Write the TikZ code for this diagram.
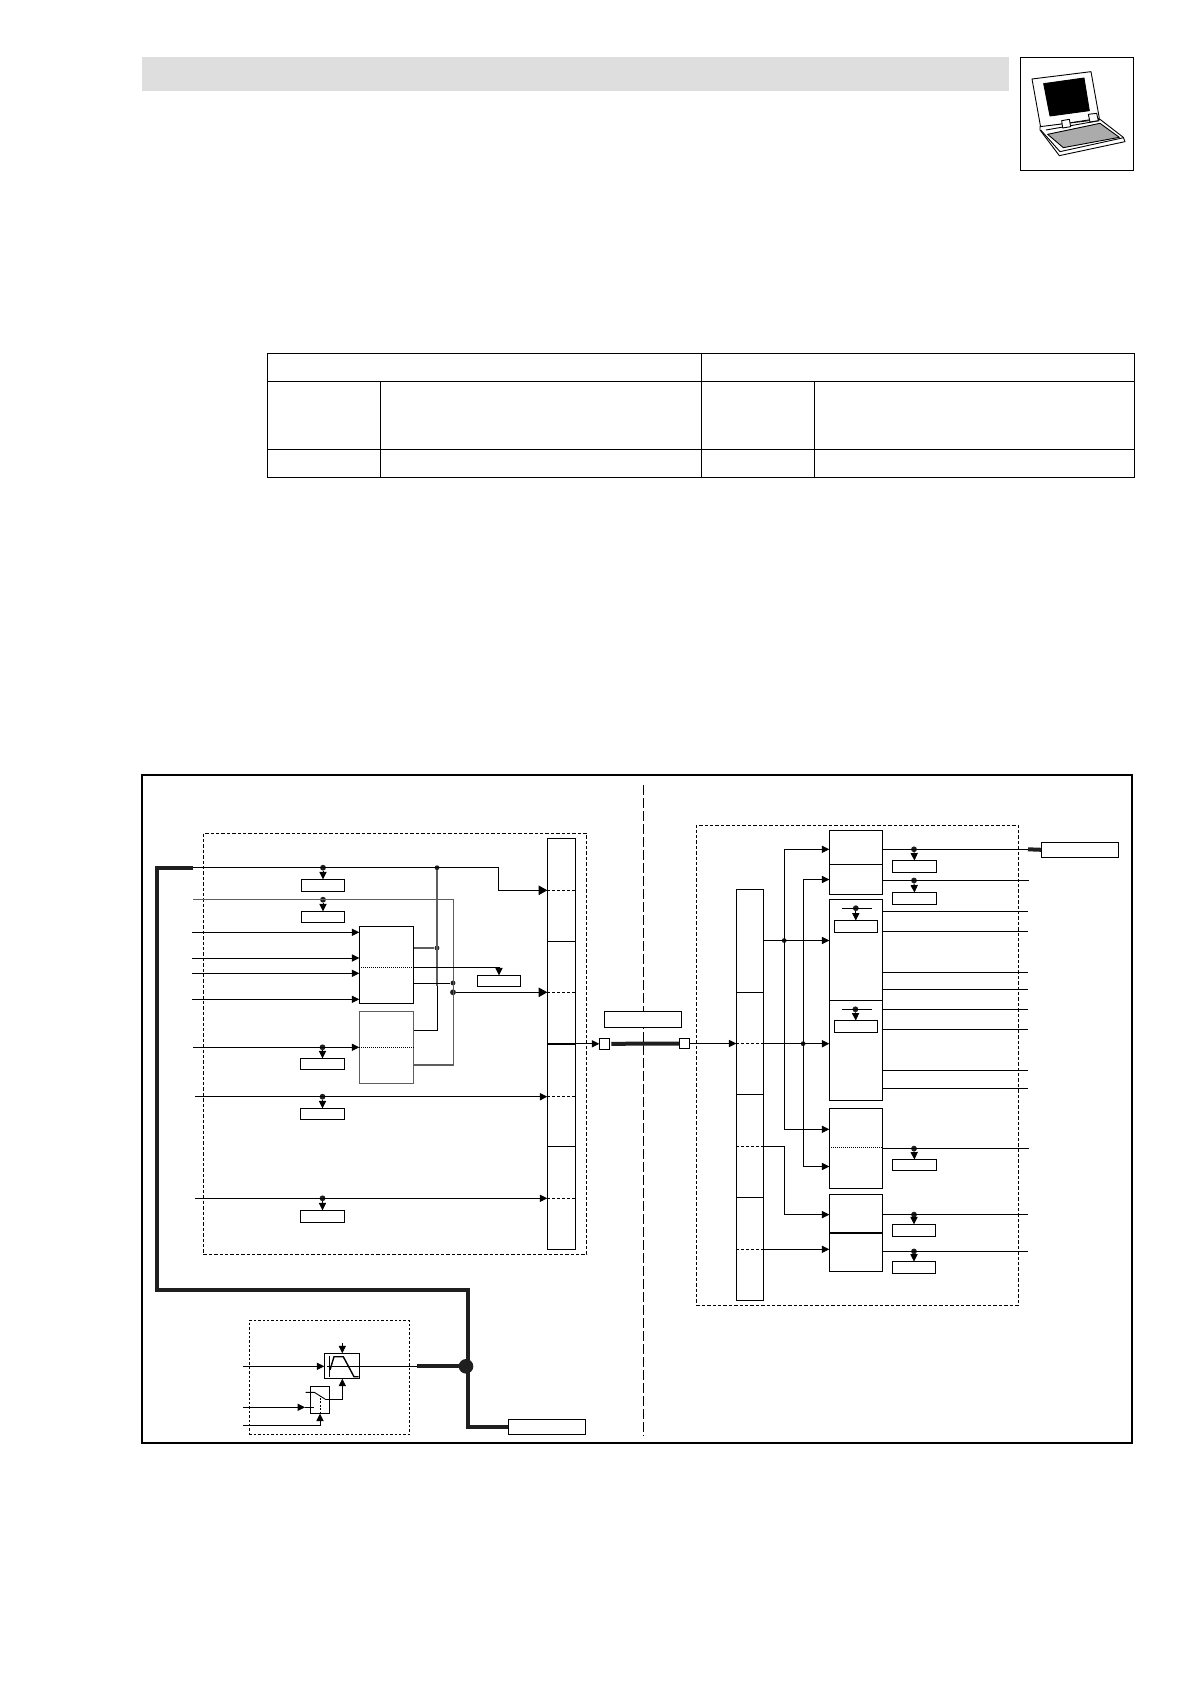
\documentclass[tikz,border=0pt]{standalone}
\usepackage{xcolor}
\usetikzlibrary{positioning, calc, arrows.meta}
\definecolor{bandgray}{HTML}{DEDEDE}
\definecolor{wiregray}{HTML}{5E5E5E}
\tikzset{
  sigbox/.style={draw, fill=white, line width=0.9pt, inner sep=0pt, outer sep=0pt},
  plate/.style={sigbox},
  dashbox/.style={draw, line width=0.8pt, inner sep=0pt, outer sep=0pt, dash pattern=on 3.4pt off 2pt},
  wire/.style={line width=0.9pt},
  graywire/.style={line width=1.2pt, draw=wiregray},
  busline/.style={line width=4pt, draw=black!88, line join=miter},
  sigarrow/.style={-{Triangle[length=7.4pt,width=7.2pt]}},
  bigarrow/.style={-{Triangle[length=8.6pt,width=9.4pt]}},
  tapdot/.style={circle, fill=black!88, inner sep=0pt, minimum size=5.8pt},
  joindot/.style={circle, fill=black!88, inner sep=0pt, minimum size=4.8pt},
  splitline/.style={line width=0.8pt, dash pattern=on 3pt off 2pt},
  dotline/.style={line width=0.8pt, dash pattern=on 1pt off 1pt},
}
\begin{document}
\begin{tikzpicture}[x=1pt, y=-1pt]
    \useasboundingbox (0,0) rectangle (1190,1684);

    % Page head band and the icon box
    \node[fill=bandgray, inner sep=0pt, minimum width=866.5pt, minimum height=33.4pt] (band) at (575.5,74) {};
    \node[draw, line width=0.9pt, inner sep=0pt, minimum width=113.3pt, minimum height=112.7pt] (iconbox) at (1076.7,113.7) {};

    % Laptop icon
    \begin{scope}[shift={(1010,50)}, x=0.3333pt, y=-0.3333pt, line width=0.9pt, line join=round]
        \draw[fill=white] (66,87) -- (243,65) -- (268,205) -- (92,232) -- cycle;
        \draw[fill=white] (90,230) -- (270,208) -- (340,262) -- (345,275) -- (148,317) -- (90,240) -- cycle;
        \draw (92,240) -- (150,305) -- (341,263);
        \draw[fill=black] (101,101) -- (222,84) -- (238,182) -- (120,198) -- cycle;
        \draw[fill=black!33] (113,253) -- (270,220) -- (328,262) -- (160,293) -- cycle;
        \draw (108,240) -- (268,212);
        \draw[fill=white] (155,212) -- (178,208) -- (182,230) -- (158,234) -- cycle;
        \draw[fill=white] (235,193) -- (260,190) -- (265,212) -- (240,216) -- cycle;
    \end{scope}

    % Table, just lines
    \draw[line width=1pt] (267.3,353.3) rectangle (1134.3,477.3);
    \draw[line width=1pt] (267.3,381.3) -- (1134.3,381.3);
    \draw[line width=1pt] (267.3,449.3) -- (1134.3,449.3);
    \draw[line width=0.8pt] (701.3,353.3) -- (701.3,477.3);
    \draw[line width=0.8pt] (380.8,381.3) -- (380.8,477.3);
    \draw[line width=0.8pt] (814.3,381.3) -- (814.3,477.3);

    % Outer frame and the long dashed split
    \node[draw, line width=1.9pt, inner sep=0pt, minimum width=990pt, minimum height=667.5pt] (frame) at (637,1108.8) {};
    \coordinate (splitT) at (643.3,785);
    \coordinate (splitB) at (643.3,1436);
    \draw[line width=0.9pt, dash pattern=on 10pt off 3pt] (splitT) -- (splitB);

    % Dashed groups
    \node[dashbox, minimum width=383.4pt, minimum height=421pt] (groupL) at (395,1043.8) {};
    \node[dashbox, minimum width=321.8pt, minimum height=480.4pt] (groupR) at (857.3,1065.2) {};
    \node[dashbox, line width=0.7pt, dash pattern=on 2.4pt off 2pt, minimum width=160pt, minimum height=113.6pt] (groupD) at (329.3,1377.5) {};

    % Left: boxes
    \node[sigbox, minimum width=28.4pt, minimum height=411pt] (barL) at (561.5,1043.8) {};
    \node[sigbox, minimum width=54.4pt, minimum height=77pt] (fnA) at (386.5,964.8) {};
    \node[sigbox, draw=wiregray, line width=1.2pt, minimum width=54.4pt, minimum height=72pt] (fnB) at (386.5,1047.7) {};
    \node[plate, minimum width=43.4pt, minimum height=12.4pt] (plA) at (323,885.5) {};
    \node[plate, minimum width=43.4pt, minimum height=11.4pt] (plB) at (323,917) {};
    \node[plate, minimum width=44.4pt, minimum height=11pt] (plC) at (322.5,1063.8) {};
    \node[plate, minimum width=44.4pt, minimum height=11pt] (plD) at (322.5,1113.8) {};
    \node[plate, minimum width=44.4pt, minimum height=12pt] (plE) at (322.5,1216.3) {};
    \node[plate, minimum width=43.4pt, minimum height=11.4pt] (plF) at (499,981) {};

    % Left: bar sections
    \draw[wire] (barL.west |- 0,941.3) -- (barL.east |- 0,941.3);
    \draw[wire] (barL.west |- 0,1146.3) -- (barL.east |- 0,1146.3);
    \draw[line width=1.8pt] (barL.west |- 0,1044) -- (barL.east |- 0,1044);
    \draw[splitline] (barL.west |- 0,890.3) -- (barL.east |- 0,890.3);
    \draw[splitline] (barL.west |- 0,992.3) -- (barL.east |- 0,992.3);
    \draw[splitline] (barL.west |- 0,1096.7) -- (barL.east |- 0,1096.7);
    \draw[splitline] (barL.west |- 0,1198.3) -- (barL.east |- 0,1198.3);
    \draw[dotline] (fnA.west |- 0,967.3) -- (fnA.east |- 0,967.3);
    \draw[dotline] (fnB.west |- 0,1047.3) -- (fnB.east |- 0,1047.3);

    % Left: free ends of the signal lines
    \coordinate (inA) at (193.3,867.7);
    \coordinate (inB) at (193,899.7);
    \coordinate (inC) at (192,932.3);
    \coordinate (inD) at (192,958);
    \coordinate (inE) at (192,973.3);
    \coordinate (inF) at (192,999.3);
    \coordinate (inG) at (193.3,1047.3);
    \coordinate (inH) at (195,1096.7);
    \coordinate (inI) at (194.5,1198.3);
    \coordinate (elbowA) at (498.3,890.3);
    \coordinate (elbowB) at (453.3,1065);
    \coordinate (elbowF) at (499,967.3);

    % Left: junction dots
    \node[joindot] (jnA) at (437,867.7) {};
    \node[joindot] (jnB) at (437,948) {};
    \node[joindot] (jnC) at (453,983) {};
    \node[tapdot] (jnD) at (453,992.3) {};
    \node[tapdot] (tpA) at (323,867.7) {};
    \node[tapdot] (tpB) at (323,899.7) {};
    \node[tapdot] (tpC) at (322.5,1047.3) {};
    \node[tapdot] (tpD) at (322.5,1096.7) {};
    \node[tapdot] (tpE) at (322.5,1198.3) {};

    % Left: signals
    \draw[wire, bigarrow] (inA) -| (elbowA) -- (barL.west |- elbowA);
    \draw[graywire] (inB) -| (elbowB) -- (fnB.east |- elbowB);
    \draw[wire, sigarrow] (inC) -- (fnA.west |- inC);
    \draw[wire, sigarrow] (inD) -- (fnA.west |- inD);
    \draw[wire, sigarrow] (inE) -- (fnA.west |- inE);
    \draw[wire, sigarrow] (inF) -- (fnA.west |- inF);
    \draw[wire, sigarrow] (inG) -- (fnB.west |- inG);
    \draw[wire, sigarrow] (inH) -- (barL.west |- inH);
    \draw[wire, sigarrow] (inI) -- (barL.west |- inI);
    \draw[graywire] (jnA) -- (jnA |- 0,986);
    \draw[wire] (jnA |- 0,986) |- (fnB.east |- 0,1030.7);
    \draw[graywire] (fnA.east |- jnB) -- (jnB);
    \draw[wire] (fnA.east |- jnC) -- (jnC);
    \draw[wire, sigarrow] (fnA.east |- elbowF) -| (plF.north);
    \draw[wire, bigarrow] (jnD) -- (barL.west |- jnD);

    % Left: taps down to the plates
    \draw[wire, sigarrow] (tpA) -- (plA.north);
    \draw[wire, sigarrow] (tpB) -- (plB.north);
    \draw[wire, sigarrow] (tpC) -- (plC.north);
    \draw[wire, sigarrow] (tpD) -- (plD.north);
    \draw[wire, sigarrow] (tpE) -- (plE.north);

    % Middle link
    \node[sigbox, minimum width=77.4pt, minimum height=16pt] (link) at (643,1019.3) {};
    \node[sigbox, minimum size=10.5pt] (portA) at (604.5,1043.8) {};
    \node[sigbox, minimum size=10.5pt] (portB) at (684.5,1043.5) {};
    \draw[wire, sigarrow] (barL.east |- portA) -- (portA.west);
    \draw[line width=4pt, draw=black!88] ($(portA.east)+(1.5,0)$) -- (portB.west);

    % Right: boxes
    \node[sigbox, minimum width=27pt, minimum height=411.2pt] (barR) at (749.8,1094.9) {};
    \node[sigbox, minimum width=53pt, minimum height=64.2pt] (outA) at (855.8,862.5) {};
    \node[sigbox, minimum width=53pt, minimum height=201pt] (outB) at (855.8,1000) {};
    \node[sigbox, minimum width=53pt, minimum height=80pt] (outC) at (855.8,1148.6) {};
    \node[sigbox, minimum width=53pt, minimum height=76.8pt] (outD) at (855.8,1233) {};
    \node[sigbox, minimum width=76.7pt, minimum height=15.1pt] (target) at (1079.7,849.8) {};
    \draw[wire, sigarrow] (portB.east) -- (barR.west |- portB);

    % Right: box sections
    \draw[wire] (barR.west |- 0,992.5) -- (barR.east |- 0,992.5);
    \draw[wire] (barR.west |- 0,1094.6) -- (barR.east |- 0,1094.6);
    \draw[wire] (barR.west |- 0,1197.4) -- (barR.east |- 0,1197.4);
    \draw[splitline] (barR.west |- 0,1043.3) -- (barR.east |- 0,1043.3);
    \draw[splitline] (barR.west |- 0,1146.5) -- (barR.east |- 0,1146.5);
    \draw[splitline] (barR.west |- 0,1249.3) -- (barR.east |- 0,1249.3);
    \draw[wire] (outA.west |- 0,864.4) -- (outA.east |- 0,864.4);
    \draw[wire] (outB.west |- 0,1000.5) -- (outB.east |- 0,1000.5);
    \draw[dotline] (outC.west |- 0,1147.5) -- (outC.east |- 0,1147.5);
    \draw[line width=1.8pt] (outD.west |- 0,1233.2) -- (outD.east |- 0,1233.2);

    % Right: plates
    \node[plate, minimum width=44.4pt, minimum height=12pt] (plG) at (914.5,866.5) {};
    \node[plate, minimum width=44.4pt, minimum height=12pt] (plH) at (914.5,898.5) {};
    \node[plate, minimum width=44.4pt, minimum height=11pt] (plI) at (914.5,1165) {};
    \node[plate, minimum width=43.3pt, minimum height=12.3pt] (plJ) at (914,1230.5) {};
    \node[plate, minimum width=43.3pt, minimum height=12.3pt] (plK) at (914,1267.7) {};
    \node[plate, minimum width=43.5pt, minimum height=12.3pt] (plM) at (855.8,926.6) {};
    \node[plate, minimum width=43.5pt, minimum height=12pt] (plN) at (855.8,1026.5) {};

    % Right: junctions and taps
    \node[joindot] (jnE) at (784.2,940.5) {};
    \node[joindot] (jnF) at (803.1,1043.7) {};
    \node[tapdot] (tpG) at (914,849.3) {};
    \node[tapdot] (tpH) at (914,880.5) {};
    \node[tapdot] (tpI) at (914,1148.6) {};
    \node[tapdot] (tpJ) at (914,1214.6) {};
    \node[tapdot] (tpK) at (914,1251.4) {};
    \node[tapdot] (tpM) at (855.8,908.2) {};
    \node[tapdot] (tpN) at (855.4,1009.3) {};

    % Right: free ends and elbows
    \coordinate (elbowG) at (784.2,849.3);
    \coordinate (elbowH) at (784.2,1129.3);
    \coordinate (elbowI) at (803.1,879.5);
    \coordinate (elbowJ) at (803.1,1166.5);
    \coordinate (elbowK) at (784.2,1146.5);
    \coordinate (elbowM) at (784.2,1214.6);
    \coordinate (busR) at (1028,849.3);
    \coordinate (exA) at (1029,880.5);
    \coordinate (exB) at (1028,911.4);
    \coordinate (exC) at (1028,931.4);
    \coordinate (exD) at (1028,972.5);
    \coordinate (exE) at (1028,989.3);
    \coordinate (exF) at (1028,1009.3);
    \coordinate (exG) at (1028,1029.3);
    \coordinate (exH) at (1028,1070.4);
    \coordinate (exI) at (1028,1088.6);
    \coordinate (exJ) at (1029,1148.6);
    \coordinate (exK) at (1028,1214.6);
    \coordinate (exM) at (1028,1251.4);

    % Right: feeds into the boxes
    \draw[wire, sigarrow] (elbowH) -- (elbowG) -- (outA.west |- elbowG);
    \draw[wire, sigarrow] (elbowH) -- (outC.west |- elbowH);
    \draw[wire, sigarrow] (elbowJ) -- (elbowI) -- (outA.west |- elbowI);
    \draw[wire, sigarrow] (elbowJ) -- (outC.west |- elbowJ);
    \draw[wire, sigarrow] (barR.east |- jnE) -- (outB.west |- jnE);
    \draw[wire, sigarrow] (barR.east |- jnF) -- (outB.west |- jnF);
    \draw[wire, sigarrow] (barR.east |- elbowK) -- (elbowK) -- (elbowM) -- (outD.west |- elbowM);
    \draw[wire, sigarrow] (barR.east |- 0,1249.3) -- (outD.west |- 0,1249.3);

    % Right: outputs
    \draw[wire] (outA.east |- busR) -- (busR);
    \draw[line width=4pt, draw=black!88] (busR) -- (target.west);
    \draw[wire] (outA.east |- exA) -- (exA);
    \draw[wire] (outB.east |- exB) -- (exB);
    \draw[wire] (outB.east |- exC) -- (exC);
    \draw[wire] (outB.east |- exD) -- (exD);
    \draw[wire] (outB.east |- exE) -- (exE);
    \draw[wire] (outB.east |- exF) -- (exF);
    \draw[wire] (outB.east |- exG) -- (exG);
    \draw[wire] (outB.east |- exH) -- (exH);
    \draw[wire] (outB.east |- exI) -- (exI);
    \draw[wire] (outC.east |- exJ) -- (exJ);
    \draw[wire] (outD.east |- exK) -- (exK);
    \draw[wire] (outD.east |- exM) -- (exM);

    % Right: taps
    \draw[wire, sigarrow] (tpG) -- (plG.north);
    \draw[wire, sigarrow] (tpH) -- (plH.north);
    \draw[wire, sigarrow] (tpI) -- (plI.north);
    \draw[wire, sigarrow] (tpJ) -- (plJ.north);
    \draw[wire, sigarrow] (tpK) -- (plK.north);
    \draw[wire, sigarrow] (tpM) -- (plM.north);
    \draw[wire, sigarrow] (tpN) -- (plN.north);
    \draw[wire] ($(tpM)+(-14,0)$) -- ($(tpM)+(16,0)$);
    \draw[wire] ($(tpN)+(-13.5,0)$) -- ($(tpN)+(16.5,0)$);

    % Bottom block
    \node[sigbox, minimum width=35.4pt, minimum height=25.4pt] (ramp) at (342,1366) {};
    \node[sigbox, minimum width=19.4pt, minimum height=27.4pt] (switch) at (320,1400) {};
    \node[sigbox, minimum width=77.4pt, minimum height=15pt] (busend) at (547,1426.8) {};
    \node[circle, fill=black!88, inner sep=0pt, minimum size=14.6pt] (hub) at (466,1366.3) {};
    \coordinate (inJ) at (243.3,1366.3);
    \coordinate (inK) at (243.3,1407.3);
    \coordinate (inM) at (243.3,1425.3);
    \coordinate (rampTop) at (342.3,1343.3);
    \coordinate (stubA) at (417.3,1366.3);
    \coordinate (contact) at (314.3,1392.3);
    \coordinate (pole) at (325,1399);
    \coordinate (busS) at (193.3,868);
    \coordinate (busA) at (157.3,868);
    \coordinate (busB) at (157.3,1290);
    \coordinate (busC) at (467.7,1290);
    \coordinate (busD) at (467.7,1427.3);

    % Ramp curve
    \draw[line width=1.1pt] (329.3,1355.7) -- (329.3,1376.7);
    \draw[line width=0.9pt] (327.3,1366.3) -- (ramp.east |- 0,1366.3);
    \draw[line width=1.4pt] (330,1370) -- (334,1356.7) -- (343.3,1356.7) -- (354,1376.7) -- (358.7,1376.7);

    % Switch inside
    \draw[wire] (305.7,1392.3) -- (contact) -- (pole);
    \draw[wire] (305,1407.3) -- (314.3,1407.3);
    \draw[wire, dash pattern=on 2pt off 1.5pt] (switch.south) -- (320,1396);

    % Bottom signals
    \draw[wire, sigarrow] (inJ) -- (ramp.west |- inJ);
    \draw[wire, sigarrow] (inK) -- (305,1407.3);
    \draw[wire, sigarrow] (inM) -| (switch.south);
    \draw[wire, sigarrow] (pole) -| (ramp.south -| rampTop);
    \draw[wire, sigarrow] (rampTop) -- (ramp.north -| rampTop);
    \draw[wire] (ramp.east |- stubA) -- (stubA);
    \draw[busline] (stubA) -- (hub);
    \draw[busline] (busS) -- (busA) -- (busB) -- (busC) -- (busD) -- (busend.west |- busD);
\end{tikzpicture}
\end{document}
